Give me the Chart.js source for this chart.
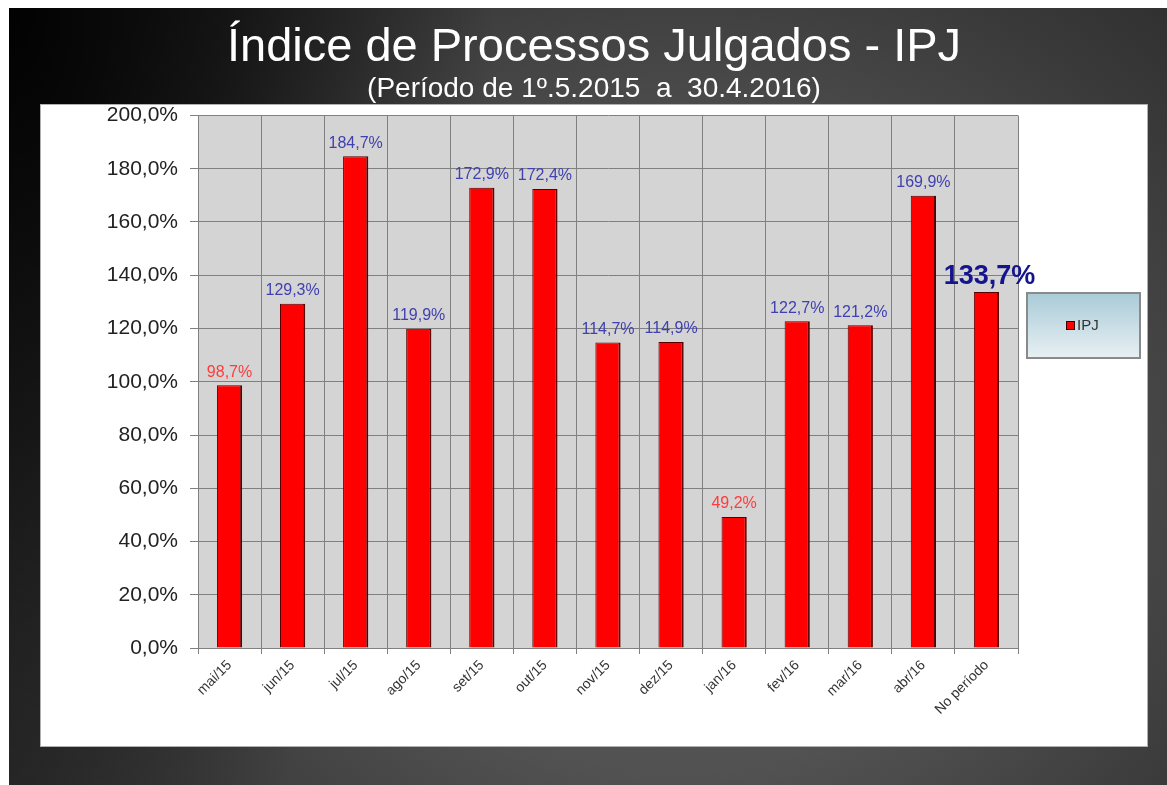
<!DOCTYPE html>
<html>
<head>
<meta charset="utf-8">
<script src="https://cdn.jsdelivr.net/npm/chart.js@4/dist/chart.umd.min.js"></script>
<style>
  html, body { margin: 0; padding: 0; background: #fff; }
  #bg {
    position: absolute; left: 9px; top: 8px; width: 1158px; height: 777px;
    background:
      radial-gradient(ellipse 42% 120% at 0% 0%, rgba(0,0,0,0.97) 0%, rgba(0,0,0,0.6) 45%, rgba(0,0,0,0) 100%),
      radial-gradient(ellipse 65% 85% at 58% 60%, #5f5f5f 0%, #525252 45%, #3a3a3a 80%, #2e2e2e 100%);
  }
  #wrap { position: absolute; left: 0; top: 0; width: 1167px; height: 785px; }
</style>
</head>
<body>
<div id="bg"></div>
<div id="wrap"><canvas id="myChart" width="1167" height="785"></canvas></div>
<script>
// data
var months = ["mai/15", "jun/15", "jul/15", "ago/15", "set/15", "out/15", "nov/15",
              "dez/15", "jan/16", "fev/16", "mar/16", "abr/16", "No período"];
var ipj = [98.7, 129.3, 184.7, 119.9, 172.9, 172.4, 114.7, 114.9, 49.2, 122.7, 121.2, 169.9, 133.7];
var yMin = 0, yMax = 200, yStep = 20;

var fmt = function(v) { return v.toFixed(1).replace(".", ",") + "%"; };
var FONT = "'Liberation Sans', Arial, sans-serif";

//!Panel + plot background, titles centred on the slide
var panelBg = {
  id: "panelBg",
  afterLayout: function(chart) {
    chart.boxes.forEach(function(b) {
      if (b.options && b.options.text !== undefined && b.position === "top") {
        b.left = 21;
        b.right = 1167;
      }
    });
  },
  beforeDraw: function(chart) {
    var c = chart.ctx, a = chart.chartArea;
    c.save();
    c.fillStyle = "#fff";
    c.fillRect(40, 104, 1108, 643);
    c.strokeStyle = "#b0b0b0";
    c.lineWidth = 1;
    c.strokeRect(40.5, 104.5, 1107, 642);
    c.fillStyle = "#d4d4d4";
    c.fillRect(a.left, a.top, a.right - a.left, a.bottom - a.top);
    c.restore();
  }
};

//!Value labels
var valueLabels = {
  id: "valueLabels",
  afterDatasetsDraw: function(chart) {
    var c = chart.ctx;
    var bars = chart.getDatasetMeta(0).data;
    c.save();
    c.textAlign = "center";
    c.textBaseline = "middle";
    bars.forEach(function(bar, i) {
      var v = ipj[i];
      if (i === ipj.length - 1) {
        c.font = "bold 27px " + FONT;
        c.fillStyle = "#14148c";
        c.fillText(fmt(v), bar.x + 3, bar.y - 15);
      } else {
        c.font = "16px " + FONT;
        c.fillStyle = v < 100 ? "#ff3b3b" : "#4040b0";
        c.fillText(fmt(v), bar.x, bar.y - 13);
      }
    });
    c.restore();
  }
};

//!Legend box
var legendBox = {
  id: "legendBox",
  afterDraw: function(chart) {
    var c = chart.ctx;
    var x = 1027, y = 293, w = 113, h = 65;
    c.save();
    var g = c.createLinearGradient(0, y, 0, y + h);
    g.addColorStop(0, "#a9cbd7");
    g.addColorStop(1, "#e8f0f3");
    c.fillStyle = g;
    c.fillRect(x, y, w, h);
    c.strokeStyle = "#8a8a8a";
    c.lineWidth = 2;
    c.strokeRect(x, y, w, h);
    c.fillStyle = "#ff0000";
    c.fillRect(x + 39, y + 28, 9, 9);
    c.strokeStyle = "#400000";
    c.lineWidth = 1;
    c.strokeRect(x + 39.5, y + 28.5, 8, 8);
    c.fillStyle = "#333";
    c.font = "15px " + FONT;
    c.textBaseline = "middle";
    c.fillText(chart.data.datasets[0].label, x + 50, y + 33);
    c.restore();
  }
};

//!Chart
var ctx = document.getElementById("myChart").getContext("2d");
var myChart = new Chart(ctx, {
  type: "bar",
  data: {
    labels: months,
    datasets: [
      {
        label: "IPJ",
        data: ipj,
        backgroundColor: "#ff0000",
        borderColor: "#5a0000",
        borderWidth: { top: 1, left: 1, right: 2, bottom: 0 },
        borderSkipped: false,
        barPercentage: 0.4,
        categoryPercentage: 1
      }
    ]
  },
  options: {
    responsive: false,
    animation: false,
    layout: { padding: { left: 40, right: 149, top: 0, bottom: 38 } },
    plugins: {
      legend: { display: false },
      tooltip: { enabled: false },
      title: {
        display: true,
        text: "Índice de Processos Julgados - IPJ",
        color: "#fff",
        font: { family: FONT, size: 47, weight: "normal", lineHeight: 1.1 },
        padding: { top: 22, bottom: 0 }
      },
      subtitle: {
        display: true,
        text: "(Período de 1º.5.2015  a  30.4.2016)",
        color: "#fff",
        font: { family: FONT, size: 28, lineHeight: 1.1 },
        padding: { top: 0, bottom: 11 }
      }
    },
    scales: {
      x: {
        grid: { color: "#808080", offset: true, tickLength: 6 },
        border: { color: "#808080" },
        ticks: {
          color: "#333",
          font: { family: FONT, size: 14 },
          minRotation: 45, maxRotation: 45, autoSkip: false
        },
        afterFit: function(s) { s.height = 99; }
      },
      y: {
        min: yMin, max: yMax,
        grid: { color: "#808080", tickLength: 8 },
        border: { color: "#808080" },
        ticks: {
          stepSize: yStep,
          padding: 12,
          color: "#222",
          font: { family: FONT, size: 21 },
          callback: function(v) { return fmt(v); }
        },
        afterFit: function(s) { s.width = 158; }
      }
    }
  },
  plugins: [panelBg, valueLabels, legendBox]
});
</script>
</body>
</html>
